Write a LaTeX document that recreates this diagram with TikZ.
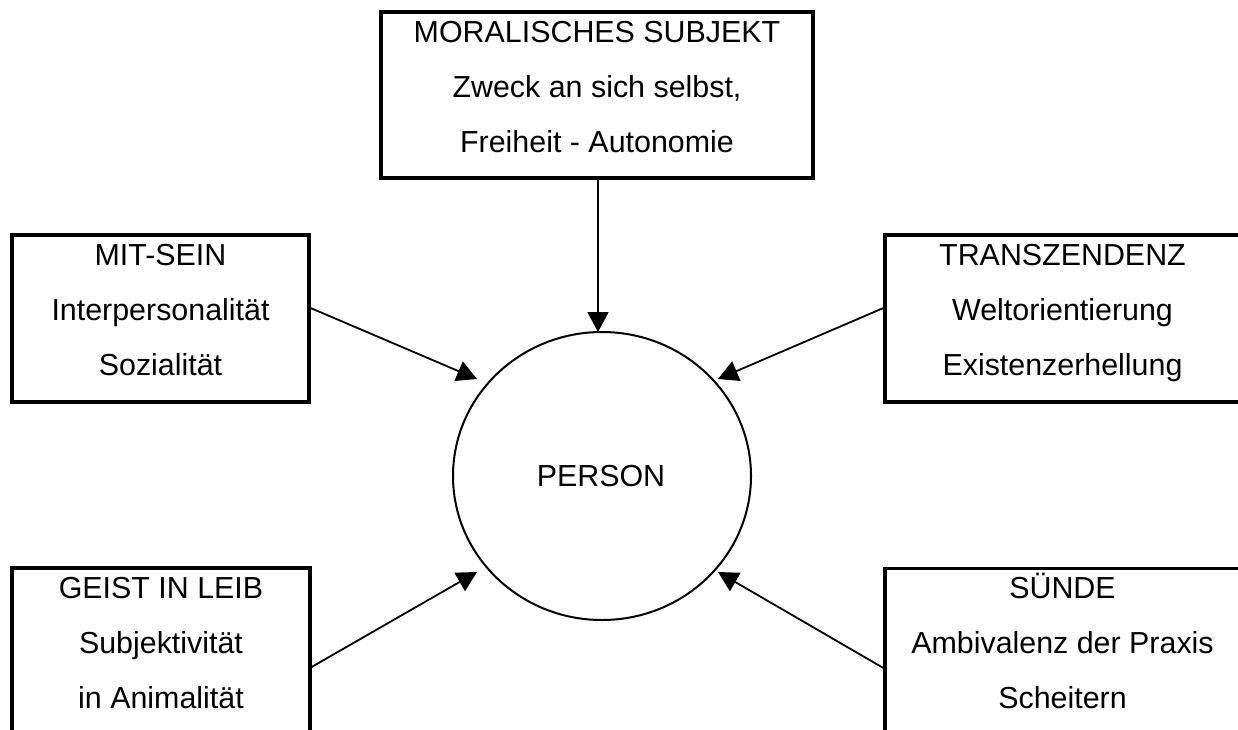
\documentclass[tikz,border=0pt]{standalone}
\usepackage{fontspec}
\setmainfont{Liberation Sans}
\usetikzlibrary{arrows.meta,shapes.geometric}

% three-line labelled box: name, centre, width, height, three lines
\newcommand\triplebox[7]{%
  \node[topicbox, minimum width=#3, minimum height=#4] (#1) at (#2) {};
  \node[linetxt] (#1-a) at ([yshift=-32pt]#1.north) {#5};
  \node[linetxt] (#1-b) at ([yshift=-87pt]#1.north) {#6};
  \node[linetxt] (#1-c) at ([yshift=-142pt]#1.north) {#7};
}

\begin{document}
\begin{tikzpicture}[x=1pt, y=-1pt,
  topicbox/.style={draw, line width=3.2pt, rectangle, inner sep=0pt},
  linetxt/.style={anchor=base, inner sep=0pt,
    font=\fontsize{30.4}{36}\selectfont},
  personnode/.style={draw, line width=2pt, ellipse, inner sep=0pt,
    minimum width=298pt, minimum height=288pt},
  arr/.style={line width=1.8pt, -{Triangle[length=20pt, width=21pt]}}]

\clip (0,0) rectangle (1238,729);
\fill[white] (0,0) rectangle (1238,729);

% central circle
\node[personnode] (person) at (602,476) {};
\node[linetxt, anchor=center] (personlbl) at (601,476.5) {PERSON};

% surrounding boxes
\triplebox{moral}{597,95}{432pt}{166pt}{MORALISCHES SUBJEKT}{Zweck an sich selbst,}{Freiheit - Autonomie}
\triplebox{mitsein}{160.5,318.5}{297pt}{167pt}{MIT-SEIN}{Interpersonalität}{Sozialität}
\triplebox{transz}{1062.5,318.5}{355pt}{167pt}{TRANSZENDENZ}{Weltorientierung}{Existenzerhellung}
\triplebox{geist}{161,651.5}{298pt}{167pt}{GEIST IN LEIB}{Subjektivität}{in Animalität}
\triplebox{suende}{1062.5,652}{355pt}{167pt}{SÜNDE}{Ambivalenz der Praxis}{Scheitern}

% arrow tips just outside the circle
\coordinate (tipT)  at (598,332);
\coordinate (tipUL) at (477,379);
\coordinate (tipUR) at (718,379);
\coordinate (tipLL) at (477,572);
\coordinate (tipLR) at (718,572);

% connectors into the person
\draw[arr] ([xshift=1pt]moral.south) -- (tipT);
\draw[arr] ([yshift=10.5pt]mitsein.east) -- (tipUL);
\draw[arr] ([yshift=10.5pt]transz.west) -- (tipUR);
\draw[arr] ([yshift=-15.5pt]geist.east) -- (tipLL);
\draw[arr] ([yshift=-16pt]suende.west) -- (tipLR);

\end{tikzpicture}
\end{document}
